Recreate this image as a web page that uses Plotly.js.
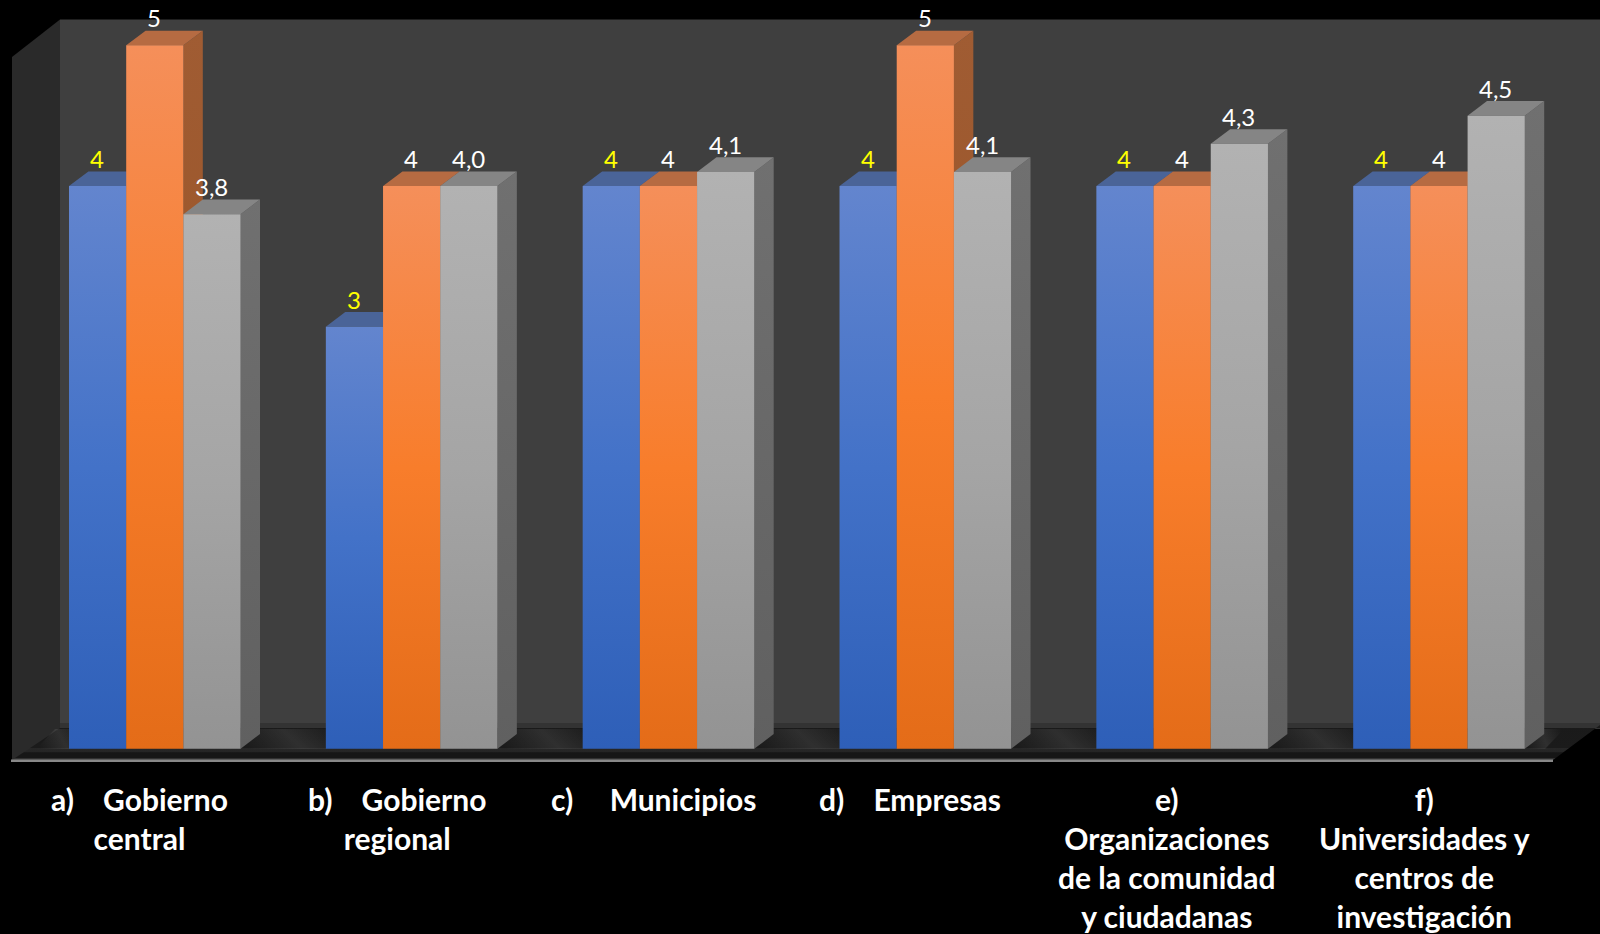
<!DOCTYPE html>
<html>
<head>
<meta charset="utf-8">
<script src="https://cdn.plot.ly/plotly-3.0.1.min.js"></script>
<style>html,body{margin:0;padding:0;background:#000;overflow:hidden}#chart{width:1600px;height:934px}</style>
</head>
<body>
<div id="chart"></div>
<script>
const categories = ["a) Gobierno central","b) Gobierno regional","c) Municipios","d) Empresas","e) Organizaciones de la comunidad y ciudadanas","f) Universidades y centros de investigación"];
const tickLabels = [
  "a)\u00A0\u00A0\u00A0\u00A0Gobierno<br>central",
  "b)\u00A0\u00A0\u00A0\u00A0Gobierno<br>regional",
  "c)\u00A0\u00A0\u00A0\u00A0\u00A0Municipios",
  "d)\u00A0\u00A0\u00A0\u00A0Empresas",
  "e)<br>Organizaciones<br>de la comunidad<br>y ciudadanas",
  "f)<br>Universidades y<br>centros de<br>investigación"
];
const seriesA = [4,3,4,4,4,4];
const seriesB = [5,4,4,5,4,4];
const seriesC = [3.8,4.0,4.1,4.1,4.3,4.5];
const labelsA = ["4","3","4","4","4","4"];
const labelsB = ["5","4","4","5","4","4"];
const labelsC = ["3,8","4,0","4,1","4,1","4,3","4,5"];

// page geometry
const W=1600,H=934, Y0=748.7, PXY=140.67, X0=154.8, PXX=256.84, BARW=57.2, DX=19.4, DY=14.6;
const bw=BARW/PXX, dx=DX/PXX, dy=DY/PXY;
const bargap=1-3*bw;
const xr=[-X0/PXX,(W-X0)/PXX], yr=[(Y0-H)/PXY,Y0/PXY];
const fx=p=>p/W, fy=p=>1-p/H;
const poly=(pts)=>'M'+pts.map(p=>p[0]+','+p[1]).join('L')+'Z';

const shapes=[], grads={};
function paperShape(pts,color,grad){
  const s={type:'path',xref:'paper',yref:'paper',layer:'below',line:{width:0},fillcolor:color,
    path:poly(pts.map(p=>[fx(p[0]),fy(p[1])]))};
  if(grad) grads[shapes.length]=grad;
  shapes.push(s);
}
paperShape([[60,19.5],[1600,19.5],[1600,725],[60,725]],'#3f3f3f');
paperShape([[12,57],[60,19.5],[60,729],[12,762]],'#2a2a2a');
paperShape([[60,723],[1600,723],[1600,729],[60,729]],'#333333');
paperShape([[12,760],[60,728],[1600,728],[1600,725],[1553,760]],'#1c1c1c','gFloor');
// soft light streaks on the floor between the groups
[-1,0,1,2,3,4,5].forEach(i=>{
  const a=(i+1.5*bw)*PXX+X0, b=(i+1-1.5*bw)*PXX+X0;
  const L=Math.max(a,36), R=Math.min(b,1545);
  paperShape([[L,749],[R,749],[Math.min(R+19,1585),729],[L+19,729]],'rgba(0,0,0,0)','gStreak');
});
paperShape([[11,759.5],[1553,759.5],[1553,762],[11,762]],'#888888');

const topColors=['#4a6498','#b66b42','#858585'];
const sideGrad=['gSide0','gSide1','gSide2'];
[seriesA,seriesB,seriesC].forEach((vals,s)=>{
  vals.forEach((v,i)=>{
    const l=i+(s-1.5)*bw, r=l+bw;
    grads[shapes.length]=sideGrad[s];
    shapes.push({type:'path',xref:'x',yref:'y',layer:'below',line:{width:0},fillcolor:'#666',
      path:poly([[r,0],[r+dx,dy],[r+dx,v+dy],[r,v]])});
    shapes.push({type:'path',xref:'x',yref:'y',layer:'below',line:{width:0},fillcolor:topColors[s],
      path:poly([[l,v],[r,v],[r+dx,v+dy],[l+dx,v+dy]])});
  });
});

const annotations=[];
[[seriesA,labelsA,'#ffff00'],[seriesB,labelsB,'#ffffff'],[seriesC,labelsC,'#ffffff']].forEach((g,s)=>{
  g[0].forEach((v,i)=>{
    annotations.push({xref:'x',yref:'y',x:i+(s-1)*bw,y:v,text:g[1][i],showarrow:false,xshift:-0.5,yshift:27.5,
      xanchor:'center',yanchor:'middle',font:{family:'Lato, Carlito, sans-serif',size:24,color:g[2]}});
  });
});
tickLabels.forEach((t,i)=>{
  annotations.push({xref:'x',yref:'paper',x:i,y:fy(779),text:'<b>'+t+'</b>',showarrow:false,xshift:-15,
    xanchor:'center',yanchor:'top',align:'center',font:{family:'Lato, Carlito, sans-serif',size:30,color:'#ffffff'}});
});

const mk=(name,vals,color)=>({type:'bar',name:name,x:categories,y:vals,marker:{color:color,line:{width:0}},hoverinfo:'x+y'});
const data=[mk('Serie 1',seriesA,'#4472c4'),mk('Serie 2',seriesB,'#f87d2b'),mk('Serie 3',seriesC,'#a5a5a5')];
const layout={width:W,height:H,margin:{l:0,r:0,t:0,b:0,pad:0},paper_bgcolor:'#000',plot_bgcolor:'#000',
  showlegend:false,barmode:'group',bargap:bargap,bargroupgap:0,
  xaxis:{type:'category',categoryorder:'array',categoryarray:categories,range:xr,showticklabels:false,showgrid:false,zeroline:false,showline:false,ticks:''},
  yaxis:{range:yr,showticklabels:false,showgrid:false,zeroline:false,showline:false,ticks:''},
  shapes:shapes,annotations:annotations};

const gradDefs={
  g0:[[0,'#6385ce'],[.5,'#4372c8'],[1,'#2e5fb8']],
  g1:[[0,'#f58f5a'],[.5,'#f87d2b'],[1,'#e46c18']],
  g2:[[0,'#b2b2b2'],[.5,'#a5a5a5'],[1,'#939393']],
  gSide0:[[0,'#4a6498'],[1,'#2b4a85']],
  gSide1:[[0,'#a05c33'],[1,'#96501f']],
  gSide2:[[0,'#707070'],[1,'#606060']],
  gFloor:[[0,'#1a1a1a'],[.65,'#1b1b1b'],[.66,'#272727'],[.77,'#252525'],[.79,'#161616'],[.93,'#161616'],[.95,'#303030'],[1,'#303030']],
  gStreak:[[0,'rgba(255,255,255,0)'],[.5,'rgba(255,255,255,0.09)'],[1,'rgba(255,255,255,0)']]
};
const diagonal={gStreak:true};
function applyGradients(){
  const gd=document.getElementById('chart');
  const svg=gd.querySelector('svg.main-svg');
  let defs=svg.querySelector('defs');
  if(!document.getElementById('g0')){
    Object.keys(gradDefs).forEach(id=>{
      const lg=document.createElementNS('http://www.w3.org/2000/svg','linearGradient');
      lg.setAttribute('id',id);
      const d=diagonal[id];
      lg.setAttribute('x1','0');lg.setAttribute('y1',d?'0.6':'0');lg.setAttribute('x2',d?'1':'0');lg.setAttribute('y2',d?'0.4':'1');
      gradDefs[id].forEach(st=>{
        const e=document.createElementNS('http://www.w3.org/2000/svg','stop');
        e.setAttribute('offset',st[0]);e.setAttribute('stop-color',st[1]);lg.appendChild(e);
      });
      defs.appendChild(lg);
    });
  }
  gd.querySelectorAll('.barlayer .trace').forEach((t,s)=>{
    t.querySelectorAll('.point path').forEach(p=>{p.style.fill='url(#g'+s+')';});
  });
  Object.keys(grads).forEach(i=>{
    const p=gd.querySelector('.shapelayer path[data-index="'+i+'"]');
    if(p){p.style.fill='url(#'+grads[i]+')';p.style.fillOpacity=1;}
  });
}
Plotly.newPlot('chart',data,layout,{displayModeBar:false,staticPlot:true}).then(applyGradients);
</script>
</body>
</html>
